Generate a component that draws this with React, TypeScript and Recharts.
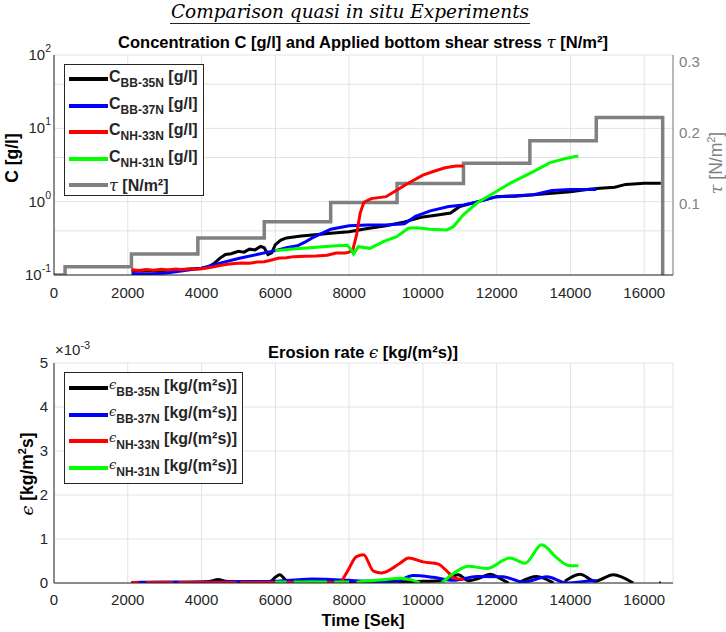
import React from 'react';
import { ComposedChart, Line, XAxis, YAxis, CartesianGrid } from 'recharts';

// time axis [s]
const xMax = 16780;
const timeTicks = [0, 2000, 4000, 6000, 8000, 10000, 12000, 14000, 16000];

// concentration C [g/l] (log axis)
const cTicks = [0.1, 1, 10, 100];
const cGridTicks = [
  0.1, 0.2, 0.3, 0.4, 0.5, 0.6, 0.7, 0.8, 0.9,
  1, 2, 3, 4, 5, 6, 7, 8, 9,
  10, 20, 30, 40, 50, 60, 70, 80, 90, 100,
];

const tBB35 = [2100, 2400, 2800, 3200, 3600, 4000, 4200, 4350, 4500, 4650, 4800, 5000, 5150, 5300, 5450, 5600, 5700, 5800, 5900, 6000, 6150, 6300, 6500, 6700, 7000, 7500, 8000, 8500, 9000, 9500, 10000, 10400, 10750, 11000, 11500, 12000, 12500, 13000, 13500, 14000, 14500, 14800, 15200, 15500, 16000, 16450];
const cBB35 = [0.116, 0.113, 0.114, 0.117, 0.12, 0.124, 0.13, 0.145, 0.17, 0.19, 0.195, 0.21, 0.205, 0.225, 0.22, 0.245, 0.235, 0.19, 0.2, 0.26, 0.3, 0.32, 0.33, 0.34, 0.35, 0.37, 0.39, 0.43, 0.47, 0.53, 0.62, 0.66, 0.7, 0.86, 1.0, 1.17, 1.19, 1.24, 1.3, 1.37, 1.48, 1.52, 1.57, 1.72, 1.78, 1.78];

const tBB37 = [2100, 2500, 3000, 3500, 4000, 4500, 5000, 5500, 5800, 6000, 6300, 6600, 6800, 7000, 7500, 8000, 8500, 9000, 9500, 9800, 10200, 10700, 11100, 11500, 12000, 12500, 13000, 13500, 14000, 14700];
const cBB37 = [0.105, 0.103, 0.106, 0.114, 0.124, 0.145, 0.168, 0.19, 0.205, 0.215, 0.235, 0.25, 0.28, 0.32, 0.42, 0.47, 0.48, 0.48, 0.5, 0.63, 0.75, 0.86, 0.9, 1.0, 1.17, 1.2, 1.24, 1.42, 1.47, 1.47];

const tNH33 = [2100, 2300, 2500, 2700, 2900, 3100, 3300, 3500, 3700, 3900, 4100, 4300, 4500, 4700, 4900, 5100, 5300, 5500, 5700, 5900, 6100, 6300, 6500, 6800, 7100, 7400, 7650, 7900, 8000, 8100, 8200, 8300, 8400, 8600, 9000, 9300, 9600, 10000, 10300, 10600, 10900, 11100];
const cNH33 = [0.118, 0.115, 0.119, 0.116, 0.12, 0.117, 0.121, 0.118, 0.122, 0.12, 0.124, 0.128, 0.135, 0.14, 0.143, 0.146, 0.145, 0.15, 0.152, 0.16, 0.17, 0.172, 0.178, 0.18, 0.182, 0.186, 0.2, 0.2, 0.205, 0.22, 0.35, 0.7, 0.98, 1.1, 1.17, 1.44, 1.78, 2.3, 2.6, 2.9, 3.06, 3.07];

const tNH31 = [6000, 6400, 6750, 7200, 7650, 7950, 8060, 8120, 8250, 8566, 8928, 9289, 9605, 9831, 10200, 10644, 10825, 11096, 11458, 11910, 12361, 12723, 12994, 13446, 13897, 14213];
const cNH31 = [0.215, 0.225, 0.231, 0.24, 0.25, 0.255, 0.22, 0.193, 0.243, 0.231, 0.285, 0.333, 0.433, 0.44, 0.42, 0.41, 0.456, 0.66, 0.95, 1.3, 1.78, 2.19, 2.57, 3.41, 3.9, 4.2];

// applied bottom shear stress tau [N/m²]
const tauTicks = [0.1, 0.2, 0.3];
const tauTimes = [0, 300, 2100, 3900, 5700, 7500, 9300, 11100, 12900, 14700, 16500];
const tauValues = [0, 0.0116, 0.0295, 0.052, 0.075, 0.102, 0.129, 0.1575, 0.189, 0.222, 0];

// erosion rate eps [kg/(m²s)] x 10^-3
const epsTicks = [0, 1, 2, 3, 4, 5];

const tEpsBB35 = [2100, 2600, 3100, 3600, 4000, 4250, 4450, 4650, 4900, 5150, 5400, 5650, 5850, 6000, 6120, 6300, 6600, 7000, 7500, 8000, 8500, 9000, 9500, 10000, 10500, 10960, 11230, 11500, 11820, 12100, 12320, 12480, 12630, 13080, 13540, 13700, 13850, 14260, 14670, 15160, 15700, 15900, 16400, 16450];
const eBB35 = [0.0, 0.01, 0.01, 0.01, 0.02, 0.04, 0.08, 0.04, 0.03, 0.02, 0.03, 0.02, 0.03, 0.13, 0.19, 0.06, 0.03, 0.02, 0.02, 0.03, 0.04, 0.04, 0.03, 0.04, 0.05, 0.19, 0.05, 0.1, 0.2, 0.1, 0.0, null, 0.02, 0.15, 0.0, null, 0.04, 0.2, 0.04, 0.19, 0.0, null, 0.0, 0.0];

const tEpsBB37 = [2100, 3000, 4000, 5000, 6000, 6500, 7000, 7500, 8000, 8500, 9000, 9150, 9740, 10280, 10830, 11460, 12180, 12720, 13360, 13900, 14620, 14700];
const eBB37 = [0.01, 0.02, 0.02, 0.03, 0.04, 0.07, 0.09, 0.08, 0.06, 0.04, 0.03, 0.0, 0.17, 0.13, 0.06, 0.15, 0.14, 0.02, 0.14, 0.0, 0.05, 0.05];

const tEpsNH33 = [2100, 2300, 2400, 2500, 2900, 3230, 3300, 3370, 4000, 4500, 4950, 5000, 5050, 5500, 6000, 6500, 7000, 7500, 7750, 7930, 8200, 8390, 8660, 8880, 9380, 9610, 10010, 10420, 10650, 10870, 11100];
const eNH33 = [0.01, 0.01, null, 0.01, 0.01, 0.01, null, 0.01, 0.01, 0.01, 0.01, null, 0.01, 0.01, 0.01, 0.01, 0.01, 0.01, 0.02, 0.23, 0.6, 0.64, 0.27, 0.23, 0.45, 0.57, 0.48, 0.43, 0.27, 0.11, 0.08];

const tEpsNH31 = [6000, 6300, 6400, 6500, 7000, 7400, 7500, 7600, 8000, 8100, 8200, 8300, 8600, 9000, 9380, 9700, 9920, 10000, 10510, 10920, 11230, 11730, 12360, 12770, 13220, 13630, 13940, 14215];
const eNH31 = [0.02, 0.02, null, 0.02, 0.02, 0.02, null, 0.02, 0.02, null, 0.02, 0.03, 0.05, 0.08, 0.11, 0.07, 0.0, null, 0.0, 0.27, 0.38, 0.33, 0.57, 0.45, 0.87, 0.57, 0.4, 0.39];

const toPoints = (t: number[], v: (number | null)[]) => t.map((x, i) => ({ t: x, v: v[i] }));

const sans = "'Liberation Sans', Arial, Helvetica, sans-serif";
const serif = "'DejaVu Serif', 'Liberation Serif', serif";
const axisColor = '#262626';
const gridColor = '#e3e3e3';
const tauColor = '#808080';
const titleSize = 16.5;
const labelSize = 17.5;

const cSeries = [
  { name: 'BB-35N', color: '#000000', t: tBB35, v: cBB35 },
  { name: 'BB-37N', color: '#0000ff', t: tBB37, v: cBB37 },
  { name: 'NH-33N', color: '#ff0000', t: tNH33, v: cNH33 },
  { name: 'NH-31N', color: '#00ff00', t: tNH31, v: cNH31 },
];

const eSeries = [
  { name: 'BB-35N', color: '#000000', t: tEpsBB35, v: eBB35 },
  { name: 'BB-37N', color: '#0000ff', t: tEpsBB37, v: eBB37 },
  { name: 'NH-33N', color: '#ff0000', t: tEpsNH33, v: eNH33 },
  { name: 'NH-31N', color: '#00ff00', t: tEpsNH31, v: eNH31 },
];

const tickStyle = { fill: axisColor, fontSize: 15, fontFamily: sans };

function PowTick(props: any) {
  const { x, y, payload } = props;
  const e = Math.round(Math.log10(payload.value));
  return (
    <text x={x} y={y + 5} textAnchor="end" fill={axisColor} fontSize={15} fontFamily={sans}>
      <tspan>10</tspan>
      <tspan dy={-8} fontSize={10.5}>{e}</tspan>
    </text>
  );
}

function ConcentrationChart() {
  return (
    <ComposedChart width={726} height={310} margin={{ top: 55, right: 13, bottom: 0, left: 14 }}>
      <CartesianGrid stroke={gridColor} yAxisId="grid" />
      <XAxis
        dataKey="t"
        type="number"
        domain={[0, xMax]}
        ticks={timeTicks}
        allowDataOverflow
        height={35}
        tickSize={0}
        tickMargin={12}
        tick={tickStyle}
        axisLine={{ stroke: axisColor }}
      />
      <XAxis xAxisId="top" orientation="top" type="number" domain={[0, xMax]} height={0} tick={false} tickLine={false} axisLine={{ stroke: axisColor }} />
      <YAxis yAxisId="grid" scale="log" domain={[0.1, 100]} ticks={cGridTicks} allowDataOverflow hide />
      <YAxis
        yAxisId="c"
        scale="log"
        domain={[0.1, 100]}
        ticks={cTicks}
        allowDataOverflow
        width={40}
        tickSize={0}
        tickMargin={3}
        tick={<PowTick />}
        axisLine={{ stroke: axisColor }}
      />
      <YAxis
        yAxisId="tau"
        orientation="right"
        domain={[0, 0.31]}
        ticks={tauTicks}
        allowDataOverflow
        width={40}
        tickSize={0}
        tickMargin={6}
        tick={{ ...tickStyle, fill: tauColor }}
        axisLine={{ stroke: tauColor }}
      />
      <Line
        data={toPoints(tauTimes, tauValues)}
        dataKey="v"
        yAxisId="tau"
        type="stepAfter"
        stroke={tauColor}
        strokeWidth={3.5}
        dot={false}
        isAnimationActive={false}
      />
      {cSeries.map((s) => (
        <Line
          key={s.name}
          data={toPoints(s.t, s.v)}
          dataKey="v"
          yAxisId="c"
          type="linear"
          stroke={s.color}
          strokeWidth={3}
          dot={false}
          isAnimationActive={false}
        />
      ))}
    </ComposedChart>
  );
}

function ErosionChart() {
  return (
    <ComposedChart width={726} height={312} margin={{ top: 43, right: 53, bottom: 19, left: 14 }}>
      <CartesianGrid stroke={gridColor} yAxisId="e" />
      <XAxis
        dataKey="t"
        type="number"
        domain={[0, xMax]}
        ticks={timeTicks}
        allowDataOverflow
        height={30}
        tickSize={0}
        tickMargin={11}
        tick={tickStyle}
        axisLine={{ stroke: axisColor }}
      />
      <XAxis xAxisId="top" orientation="top" type="number" domain={[0, xMax]} height={0} tick={false} tickLine={false} axisLine={{ stroke: axisColor }} />
      <YAxis
        yAxisId="e"
        domain={[0, 5]}
        ticks={epsTicks}
        allowDataOverflow
        width={40}
        tickSize={0}
        tickMargin={6}
        tick={tickStyle}
        axisLine={{ stroke: axisColor }}
      />
      <YAxis yAxisId="r" orientation="right" domain={[0, 5]} width={0} tick={false} tickLine={false} axisLine={{ stroke: axisColor }} />
      {eSeries.map((s) => (
        <Line
          key={s.name}
          data={toPoints(s.t, s.v)}
          dataKey="v"
          yAxisId="e"
          type="monotone"
          stroke={s.color}
          strokeWidth={3}
          dot={false}
          connectNulls={false}
          isAnimationActive={false}
        />
      ))}
    </ComposedChart>
  );
}

const abs = (left: number, top: number, extra: React.CSSProperties = {}): React.CSSProperties => ({
  position: 'absolute',
  left,
  top,
  ...extra,
});

function LegendRow({ y, color, children }: { y: number; color: string; children: React.ReactNode }) {
  return (
    <div style={abs(4, y - 11, { height: 22, display: 'flex', alignItems: 'center', whiteSpace: 'nowrap' })}>
      <div style={{ width: 39, height: 4, background: color }} />
      <div style={{ marginLeft: 1, fontFamily: sans, fontWeight: 'bold', fontSize: 16, color: axisColor }}>{children}</div>
    </div>
  );
}

const subStyle: React.CSSProperties = { fontSize: 12, verticalAlign: -5 };
const greek: React.CSSProperties = { fontFamily: serif, fontStyle: 'italic', fontWeight: 'normal' };

export default function App() {
  return (
    <div style={{ position: 'absolute', left: 0, top: 0, width: 726, height: 632, background: '#fff', overflow: 'hidden' }}>
      {/* super title */}
      <div style={abs(0, 1, { width: 700, textAlign: 'center', fontFamily: serif, fontStyle: 'italic', fontSize: 18.5, lineHeight: '22px', color: '#000', whiteSpace: 'nowrap' })}>
        Comparison quasi in situ Experiments
      </div>
      <div style={abs(170, 23, { width: 360, height: 1, background: '#222' })} />

      <div style={abs(0, 0)}>
        <ConcentrationChart />
      </div>
      <div style={abs(0, 320)}>
        <ErosionChart />
      </div>

      {/* top chart texts */}
      <div style={abs(0, 32, { width: 726, textAlign: 'center', fontFamily: sans, fontWeight: 'bold', fontSize: titleSize, lineHeight: '20px', color: '#000', whiteSpace: 'nowrap' })}>
        Concentration C [g/l] and Applied bottom shear stress <span style={greek}>τ</span> [N/m²]
      </div>
      <div style={abs(12, 158, { transform: 'translate(-50%, -50%) rotate(-90deg)', fontFamily: sans, fontWeight: 'bold', fontSize: labelSize, color: '#000', whiteSpace: 'nowrap' })}>
        C [g/l]
      </div>
      <div style={abs(716, 163, { transform: 'translate(-50%, -50%) rotate(-90deg)', fontFamily: sans, fontSize: labelSize, color: tauColor, whiteSpace: 'nowrap' })}>
        <span style={{ fontFamily: serif, fontStyle: 'italic' }}>τ</span> [N/m<sup style={{ fontSize: 11 }}>2</sup>]
      </div>

      {/* top legend */}
      <div style={abs(64, 64, { width: 138, height: 130, border: `1px solid ${axisColor}`, background: '#fff' })}>
        {cSeries.map((s, i) => (
          <LegendRow key={s.name} y={14 + i * 26.5} color={s.color}>
            C<span style={subStyle}>{s.name}</span> [g/l]
          </LegendRow>
        ))}
        <LegendRow y={14 + 4 * 26.5} color={tauColor}>
          <span style={greek}>τ</span> [N/m²]
        </LegendRow>
      </div>

      {/* bottom chart texts */}
      <div style={abs(0, 342, { width: 726, textAlign: 'center', fontFamily: sans, fontWeight: 'bold', fontSize: titleSize, lineHeight: '20px', color: '#000', whiteSpace: 'nowrap' })}>
        Erosion rate <span style={greek}>ϵ</span> [kg/(m²s)]
      </div>
      <div style={abs(55, 339, { fontFamily: sans, fontSize: 15, color: axisColor, whiteSpace: 'nowrap' })}>
        ×10<sup style={{ fontSize: 11 }}>-3</sup>
      </div>
      <div style={abs(27, 474, { transform: 'translate(-50%, -50%) rotate(-90deg)', fontFamily: sans, fontWeight: 'bold', fontSize: labelSize, color: '#000', whiteSpace: 'nowrap' })}>
        <span style={greek}>ϵ</span> [kg/m<sup style={{ fontSize: 11 }}>2</sup>s]
      </div>
      <div style={abs(0, 610, { width: 726, textAlign: 'center', fontFamily: sans, fontWeight: 'bold', fontSize: titleSize, lineHeight: '20px', color: '#000' })}>
        Time [Sek]
      </div>

      {/* bottom legend */}
      <div style={abs(64, 372, { width: 177, height: 110, border: `1px solid ${axisColor}`, background: '#fff' })}>
        {eSeries.map((s, i) => (
          <LegendRow key={s.name} y={15 + i * 26.7} color={s.color}>
            <span style={{ ...greek, fontSize: 13, verticalAlign: 2 }}>ϵ</span>
            <span style={subStyle}>{s.name}</span> [kg/(m²s)]
          </LegendRow>
        ))}
      </div>
    </div>
  );
}
